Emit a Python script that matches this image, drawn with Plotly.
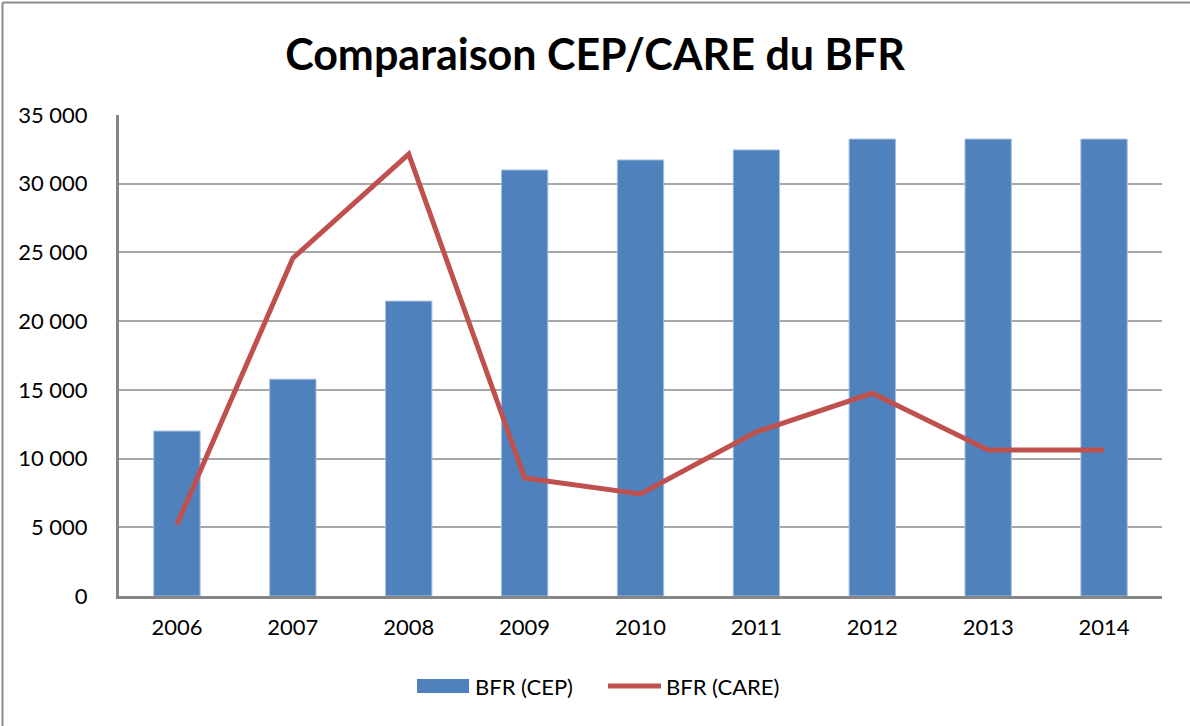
import plotly.graph_objects as go

# Annual BFR figures
years = ["2006", "2007", "2008", "2009", "2010", "2011", "2012", "2013", "2014"]
bfr_cep = [12000, 15780, 21460, 31000, 31730, 32460, 33250, 33250, 33250]
bfr_care = [5200, 24580, 32150, 8590, 7420, 11940, 14750, 10630, 10630]

y_ticks = [0, 5000, 10000, 15000, 20000, 25000, 30000, 35000]
y_labels = ["0", "5 000", "10 000", "15 000", "20 000", "25 000", "30 000", "35 000"]

series_names = ["BFR (CEP)", "BFR (CARE)"]
blue, red = "#4f81bd", "#c0504d"

W, H = 1190, 726
L, R, T, B = 119, 28, 115, 130
pw, ph = W - L - R, H - T - B

font_family = "Lato, 'Open Sans', sans-serif"

fig = go.Figure()
fig.add_trace(go.Bar(
    x=years, y=bfr_cep, name=series_names[0], showlegend=False,
    marker=dict(color=blue, line=dict(color="#a7c0de", width=1)),
))
fig.add_trace(go.Scatter(
    x=years, y=bfr_care, name=series_names[1], mode="lines", showlegend=False,
    line=dict(color=red, width=5),
))

# pixel -> paper coordinate helpers
px2x = lambda px: (px - L) / pw
py2y = lambda py: (H - B - py) / ph

# frame lines along the left and top edges of the figure
fig.add_shape(type="line", xref="paper", yref="paper",
              x0=px2x(2.5), x1=px2x(2.5), y0=py2y(2.5), y1=py2y(726),
              line=dict(color="#8c8c8c", width=2))
fig.add_shape(type="line", xref="paper", yref="paper",
              x0=px2x(2.5), x1=px2x(1190), y0=py2y(2.5), y1=py2y(2.5),
              line=dict(color="#8c8c8c", width=2))

# legend below the plot: wide swatch for the bars, line sample for the curve
fig.add_shape(type="rect", xref="paper", yref="paper",
              x0=px2x(417), x1=px2x(469), y0=py2y(693), y1=py2y(679),
              fillcolor=blue, line=dict(width=0))
fig.add_annotation(xref="paper", yref="paper", x=px2x(473), y=py2y(686),
                   text=series_names[0], showarrow=False, xanchor="left", yanchor="middle",
                   font=dict(family=font_family, size=22, color="black"))
fig.add_shape(type="line", xref="paper", yref="paper",
              x0=px2x(608), x1=px2x(661), y0=py2y(686), y1=py2y(686),
              line=dict(color=red, width=5))
fig.add_annotation(xref="paper", yref="paper", x=px2x(664), y=py2y(686),
                   text=series_names[1], showarrow=False, xanchor="left", yanchor="middle",
                   font=dict(family=font_family, size=22, color="black"))

fig.update_layout(
    width=W, height=H,
    margin=dict(l=L, r=R, t=T, b=B),
    paper_bgcolor="white", plot_bgcolor="white",
    font=dict(family=font_family, size=22, color="black"),
    title=dict(text="<b>Comparaison CEP/CARE du BFR</b>", x=0.5, xanchor="center",
               y=1 - 55 / H, yanchor="middle",
               font=dict(family=font_family, size=43, color="black")),
    bargap=0.6,
    showlegend=False,
    xaxis=dict(showline=True, linecolor="#868686", linewidth=3, ticks="",
               tickfont=dict(size=22), ticklabelstandoff=10, fixedrange=True),
    yaxis=dict(range=[0, 35000], tickvals=y_ticks, ticktext=y_labels,
               showline=True, linecolor="#868686", linewidth=3,
               showgrid=True, gridcolor="#a6a6a6", gridwidth=2,
               ticks="", tickfont=dict(size=22), ticklabelstandoff=24,
               zeroline=False),
)

fig.write_html("out.html")
